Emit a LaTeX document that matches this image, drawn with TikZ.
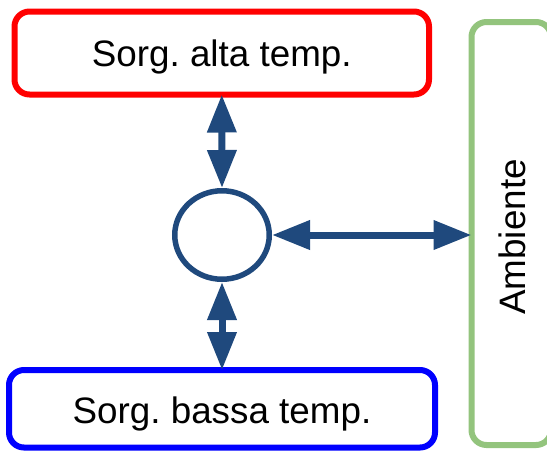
\documentclass[tikz,border=0pt]{standalone}
\usepackage{fontspec}
\setmainfont{Liberation Sans}
\usetikzlibrary{arrows.meta, shapes.geometric}
\frenchspacing

\definecolor{hotred}{RGB}{255,0,0}
\definecolor{coldblue}{RGB}{0,0,255}
\definecolor{envgreen}{RGB}{147,196,125}
\definecolor{flowblue}{RGB}{31,73,125}

\begin{document}
\begin{tikzpicture}[x=0.5pt,y=-0.5pt,
  font=\fontsize{18.4}{22}\selectfont,
  source/.style={rectangle, rounded corners=7.5pt, line width=3pt, outer sep=0pt, text depth=0pt, fill=white},
  exchange/.style={draw=flowblue, line width=3.5pt,
    {Triangle[length=19pt,width=14pt]}-{Triangle[length=19pt,width=14pt]}}]
\useasboundingbox (0,0) rectangle (547,452);

% reservoirs
\node[source, draw=hotred, minimum width=207.25pt, minimum height=41.5pt] (hot) at (221.75,53) {Sorg. alta temp.};
\node[source, draw=coldblue, minimum width=213pt, minimum height=38.75pt] (cold) at (222,408.75) {\raisebox{-1.5pt}{Sorg. bassa temp.}};
\node[source, draw=envgreen, minimum width=39.75pt, minimum height=211.5pt] (env) at (511.25,233.5) {};
\node[rotate=90] (envlabel) at (512,237) {Ambiente};

% engine
\node[ellipse, draw=flowblue, line width=2.75pt, inner sep=0pt, minimum width=47.25pt, minimum height=44.25pt] (circ) at (222,235) {};

\draw[exchange] (hot.south) -- (circ.north);
\draw[exchange] (circ.south) -- (cold.north);
\draw[exchange] (circ.east) -- (circ.east -| env.west);

\end{tikzpicture}
\end{document}
